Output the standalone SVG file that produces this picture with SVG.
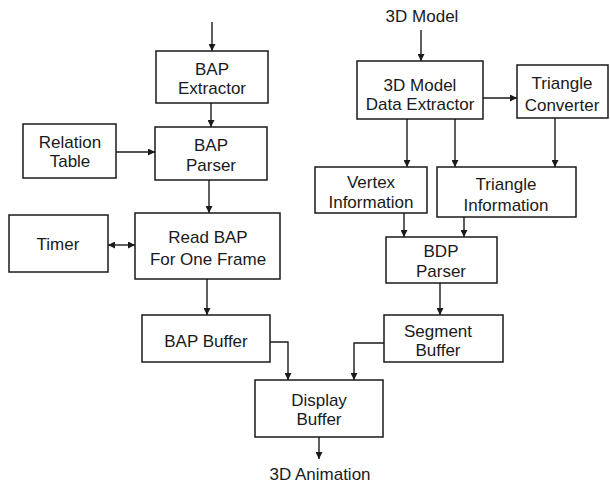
<svg xmlns="http://www.w3.org/2000/svg" width="610" height="486" viewBox="0 0 610 486">
<defs>
<marker id="ah" viewBox="0 0 10 10" refX="10" refY="5" markerWidth="7" markerHeight="7" markerUnits="userSpaceOnUse" orient="auto-start-reverse">
<path d="M0,0 L10,5 L0,10 z" fill="#1a1a1a"/>
</marker>
<style>
.box{fill:#fff;stroke:#1a1a1a;stroke-width:1.5}
.t{font-family:"Liberation Sans",Arial,sans-serif;font-size:17px;fill:#1a1a1a;text-anchor:middle}
.c{fill:none;stroke:#1a1a1a;stroke-width:1.4}
</style>
</defs>
<rect width="610" height="486" fill="#fff"/>
<g id="connectors">
<path class="c" d="M212,22 V51" marker-end="url(#ah)"/>
<path class="c" d="M211,103 V127" marker-end="url(#ah)"/>
<path class="c" d="M116,152 H155" marker-end="url(#ah)"/>
<path class="c" d="M209,180 V213" marker-end="url(#ah)"/>
<path class="c" d="M108,245 H135" marker-start="url(#ah)" marker-end="url(#ah)"/>
<path class="c" d="M207,279 V315" marker-end="url(#ah)"/>
<path class="c" d="M270,342 H288 V380" marker-end="url(#ah)"/>
<path class="c" d="M384,343 H354 V380" marker-end="url(#ah)"/>
<path class="c" d="M319,437 V459" marker-end="url(#ah)"/>
<path class="c" d="M421,30 V61" marker-end="url(#ah)"/>
<path class="c" d="M483,98 H517" marker-end="url(#ah)"/>
<path class="c" d="M407,119 V167" marker-end="url(#ah)"/>
<path class="c" d="M455,119 V167" marker-end="url(#ah)"/>
<path class="c" d="M555,118 V167" marker-end="url(#ah)"/>
<path class="c" d="M404,213 V237" marker-end="url(#ah)"/>
<path class="c" d="M464,217 V237" marker-end="url(#ah)"/>
<path class="c" d="M440,283 V315" marker-end="url(#ah)"/>
</g>
<g id="bap-extractor"><rect class="box" x="156" y="51" width="112" height="52"/><text class="t" x="212" y="75">BAP</text><text class="t" x="212" y="94">Extractor</text></g>
<g id="relation-table"><rect class="box" x="23" y="124" width="93" height="54"/><text class="t" x="70" y="148">Relation</text><text class="t" x="70" y="167">Table</text></g>
<g id="bap-parser"><rect class="box" x="155" y="127" width="112" height="53"/><text class="t" x="211" y="151">BAP</text><text class="t" x="211" y="171">Parser</text></g>
<g id="timer"><rect class="box" x="9" y="215" width="99" height="57"/><text class="t" x="58" y="250">Timer</text></g>
<g id="read-bap"><rect class="box" x="135" y="213" width="145" height="66"/><text class="t" x="208" y="243">Read BAP</text><text class="t" x="208" y="265">For One Frame</text></g>
<g id="bap-buffer"><rect class="box" x="142" y="315" width="128" height="47"/><text class="t" x="206" y="347">BAP Buffer</text></g>
<g id="display-buffer"><rect class="box" x="255" y="380" width="128" height="57"/><text class="t" x="319" y="406">Display</text><text class="t" x="319" y="425">Buffer</text></g>
<g id="animation-label"><text class="t" x="320" y="480">3D Animation</text></g>
<g id="model-label"><text class="t" x="422" y="22">3D Model</text></g>
<g id="model-extractor"><rect class="box" x="357" y="61" width="126" height="58"/><text class="t" x="420" y="91">3D Model</text><text class="t" x="420" y="110">Data Extractor</text></g>
<g id="triangle-converter"><rect class="box" x="517" y="65" width="91" height="53"/><text class="t" x="562" y="89">Triangle</text><text class="t" x="562" y="111">Converter</text></g>
<g id="vertex-info"><rect class="box" x="315" y="167" width="112" height="46"/><text class="t" x="371" y="188">Vertex</text><text class="t" x="371" y="208">Information</text></g>
<g id="triangle-info"><rect class="box" x="437" y="167" width="139" height="50"/><text class="t" x="506" y="190">Triangle</text><text class="t" x="506" y="211">Information</text></g>
<g id="bdp-parser"><rect class="box" x="386" y="237" width="111" height="46"/><text class="t" x="441" y="257">BDP</text><text class="t" x="441" y="277">Parser</text></g>
<g id="segment-buffer"><rect class="box" x="384" y="315" width="119" height="47"/><text class="t" x="438" y="337">Segment</text><text class="t" x="438" y="356">Buffer</text></g>
</svg>
